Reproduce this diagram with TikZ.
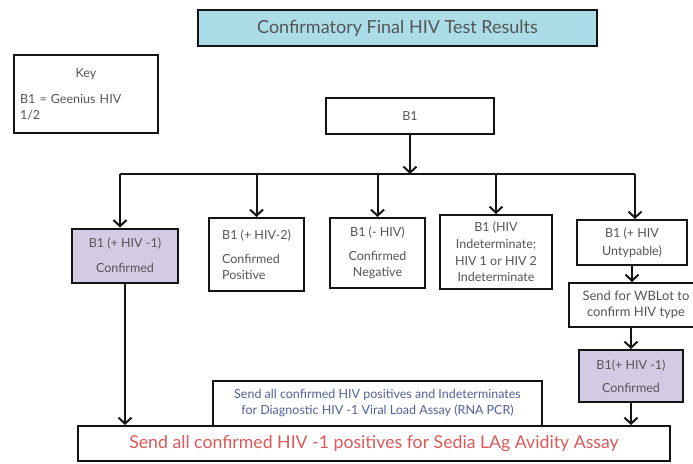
\documentclass[tikz,border=0pt]{standalone}
\usepackage{fontspec}
\setmainfont{Lato}
\usetikzlibrary{positioning, arrows.meta, calc}
\definecolor{border}{HTML}{141414}
\definecolor{titleFill}{HTML}{ABDCE8}
\definecolor{confFill}{HTML}{D3CBE3}
\definecolor{textCol}{HTML}{555555}
\definecolor{redText}{HTML}{DA5A58}
\definecolor{blueText}{HTML}{52609A}
\tikzset{
  box/.style={
    rectangle, draw=border, fill=white, line width=2pt,
    align=center, text=textCol, inner sep=2pt,
    font=\fontsize{12.5}{16}\selectfont,
  },
  confbox/.style={box, fill=confFill},
  titlebox/.style={box, fill=titleFill, font=\fontsize{18}{20}\selectfont},
  line/.style={draw=border, line width=2pt},
  arrow/.style={line, -{Straight Barb[length=6pt,width=13pt]}},
}

\begin{document}
\begin{tikzpicture}[x=1pt, y=-1pt]
  \useasboundingbox (0,0) rectangle (693,463);

  % Heading and key
  \node[titlebox, minimum width=399pt, minimum height=36pt] (title) at (397.5,28) {Confirmatory Final HIV Test Results};
  \node[box, minimum width=144pt, minimum height=78pt, align=left, text width=132pt] (key) at (86,94)
    {\makebox[\linewidth]{Key}\\[10pt]B1 = Geenius HIV\\1/2};

  % First test
  \node[box, minimum width=168pt, minimum height=36pt] (geen) at (410,116) {B1};

  % Result boxes
  \node[confbox, minimum width=106pt, minimum height=54pt] (res1) at (125,255.5) {B1 (+ HIV -1)\\[9pt]Confirmed};
  \node[box, minimum width=95pt, minimum height=73pt, align=left] (res2) at (256.5,254.5) {B1 (+ HIV-2)\\[8pt]Confirmed\\Positive};
  \node[box, minimum width=95pt, minimum height=70pt] (res3) at (377.5,253) {B1 (- HIV)\\[8pt]Confirmed\\Negative};
  \node[box, minimum width=112pt, minimum height=74pt, font=\fontsize{12.5}{16.7}\selectfont] (res4) at (496,252) {B1 (HIV\\Indeterminate;\\HIV 1 or HIV 2\\Indeterminate};
  \node[box, minimum width=110pt, minimum height=45pt, font=\fontsize{12.5}{18}\selectfont] (res5) at (632,242.5) {B1 (+ HIV\\Untypable)};

  % Untypable follow-up
  \node[box, minimum width=134pt, minimum height=44pt, font=\fontsize{13}{16}\selectfont] (wblot) at (636,305) {Send for WBLot to\\confirm HIV type};
  \node[confbox, minimum width=104pt, minimum height=52pt] (res6) at (631,376) {B1(+ HIV -1)\\[7pt]Confirmed};

  % Final referrals
  \node[box, minimum width=329pt, minimum height=45pt, text=blueText] (diag) at (377.5,403.5)
    {Send all confirmed HIV positives and Indeterminates\\for Diagnostic HIV -1 Viral Load Assay (RNA PCR)};
  \node[box, minimum width=592pt, minimum height=35pt, text=redText, font=\fontsize{17.7}{20}\selectfont] (send) at (374,443.5)
    {Send all confirmed HIV -1 positives for Sedia LAg Avidity Assay};

  % Branch lines
  \coordinate (busL) at (120,174);
  \coordinate (busR) at (635,174);
  \draw[arrow] (geen.south) -- (geen.south |- busL);
  \draw[line] (busL) -- (busR);
  \draw[arrow] (busL) -- (busL |- res1.north);
  \foreach \r in {res2,res3,res4}
    \draw[arrow] (\r.north |- busL) -- (\r.north);
  \draw[arrow] (busR) -- (busR |- res5.north);

  \draw[arrow] (res5.south) -- (res5.south |- wblot.north);
  \draw[arrow] (res6.north |- wblot.south) -- (res6.north);
  \draw[arrow] (res6.south) -- (res6.south |- send.north);
  \draw[arrow] (res1.south) -- (res1.south |- send.north);

\end{tikzpicture}
\end{document}
